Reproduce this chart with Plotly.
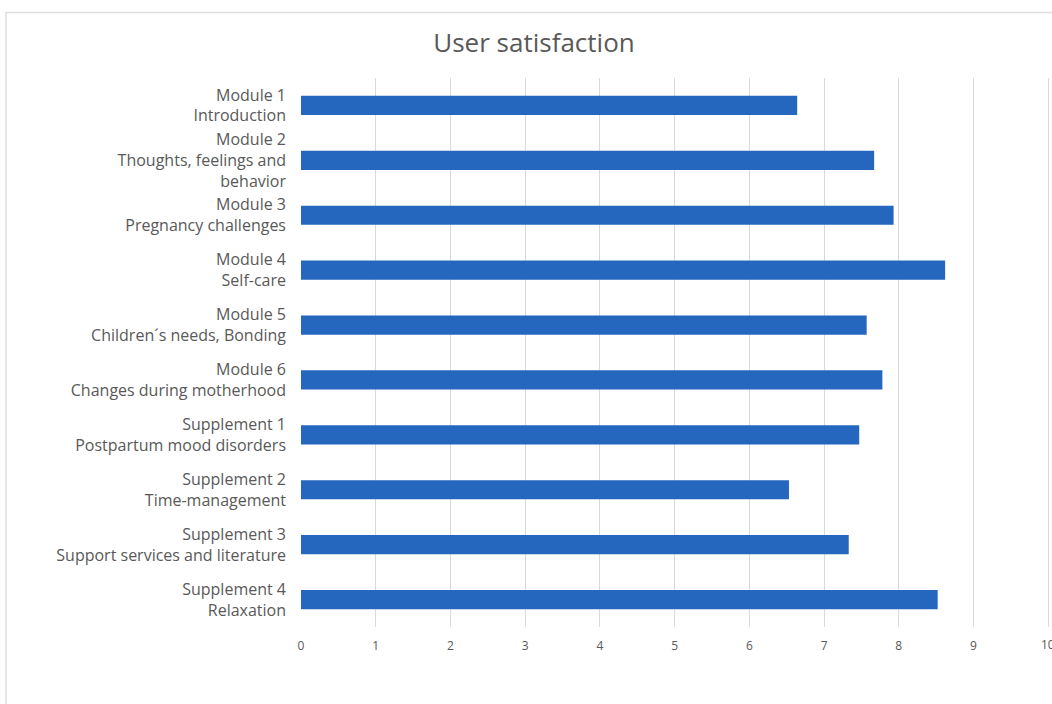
import plotly.graph_objects as go

categories = [
    "Module 1<br>Introduction",
    "Module 2<br>Thoughts, feelings and<br>behavior",
    "Module 3<br>Pregnancy challenges",
    "Module 4<br>Self-care",
    "Module 5<br>Children´s needs, Bonding",
    "Module 6<br>Changes during motherhood",
    "Supplement 1<br>Postpartum mood disorders",
    "Supplement 2<br>Time-management",
    "Supplement 3<br>Support services and literature",
    "Supplement 4<br>Relaxation",
]
values = [6.64, 7.67, 7.93, 8.62, 7.57, 7.78, 7.47, 6.53, 7.33, 8.52]
x_ticks = list(range(0, 11))

W, H = 1052, 704
L, R, T, B = 301, 0, 77.5, 76.5
pw, ph = W - L - R, H - T - B

def px_x(p):
    return (p - L) / pw

def px_y(p):
    return (H - B - p) / ph

fig = go.Figure(
    go.Bar(
        y=categories,
        x=values,
        orientation="h",
        marker=dict(color="#2566BE", line=dict(width=0)),
        width=0.35,
    )
)

tick_text = [str(v) for v in x_ticks]
edge_label = tick_text[-1]
tick_text[-1] = ""

fig.update_layout(
    width=W,
    height=H,
    margin=dict(l=L, r=R, t=T, b=B, autoexpand=False),
    paper_bgcolor="white",
    plot_bgcolor="white",
    showlegend=False,
    font=dict(family="Open Sans, sans-serif", color="#595959"),
    title=dict(
        text="User satisfaction",
        x=px_x(534), xref="paper", xanchor="center",
        y=1 - 43 / H, yref="container", yanchor="middle",
        font=dict(size=26, color="#595959"),
    ),
    shapes=[
        dict(type="rect", xref="paper", yref="paper",
             x0=px_x(6), x1=px_x(1070), y0=px_y(720), y1=px_y(12),
             line=dict(color="#E0E0E0", width=1.5), fillcolor="rgba(0,0,0,0)",
             layer="below"),
    ],
    annotations=[
        dict(text=edge_label, x=x_ticks[-1], xref="x", y=0, yref="paper",
             xanchor="center", yanchor="middle", yshift=-17, showarrow=False,
             font=dict(size=12, color="#595959")),
    ],
)

fig.update_xaxes(
    range=[0, 10.05],
    tickvals=x_ticks,
    ticktext=tick_text,
    showgrid=True,
    gridcolor="#D9D9D9",
    gridwidth=1,
    zeroline=False,
    showline=False,
    ticks="",
    tickfont=dict(size=12, color="#595959"),
    ticklabelstandoff=10,
)

fig.update_yaxes(
    autorange="reversed",
    showgrid=False,
    zeroline=False,
    showline=False,
    ticks="",
    tickfont=dict(size=16, color="#595959"),
    ticklabelstandoff=14,
)

fig.write_html("out.html")
